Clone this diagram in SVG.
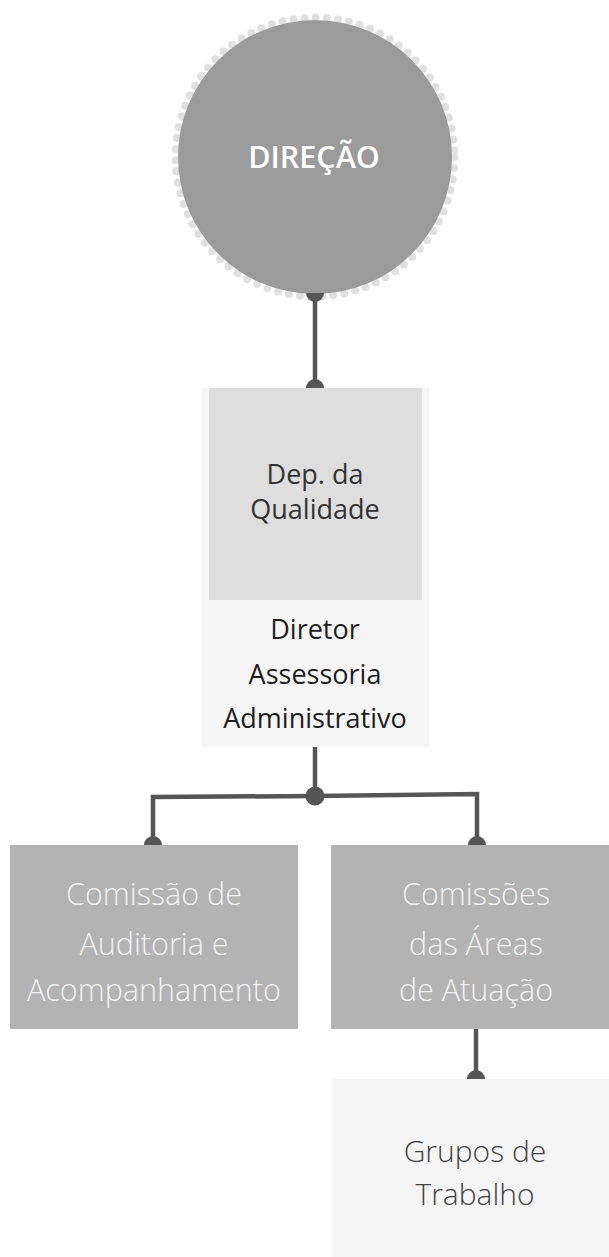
<svg xmlns="http://www.w3.org/2000/svg" width="609" height="1257" viewBox="0 0 609 1257">
<style>
.t{font-family:"Open Sans","Liberation Sans",sans-serif;text-anchor:middle}
.light{font-weight:300;font-size:30.5px;fill:#f2f2f2}
.dark{font-size:27px;fill:#1e1e1e}
.conn{stroke:#555;stroke-width:4.5;fill:none}
.cap{fill:#555}
</style>
<rect width="609" height="1257" fill="#ffffff"/>
<g id="direcao">
<circle cx="315" cy="157" r="139.5" fill="none" stroke="#e0e0e0" stroke-width="8" stroke-linecap="round" stroke-dasharray="0 11.15"/>
<circle cx="315" cy="157" r="137" fill="#9b9b9b"/>
<text class="t" x="314" y="168" font-size="30.5" font-weight="600" fill="#ffffff">DIREÇÃO</text>
</g>
<g id="dep-qualidade">
<rect x="202" y="388" width="227" height="359" fill="#f5f5f5"/>
<rect x="209" y="388" width="213" height="212" fill="#dedede"/>
<text class="t" x="315" y="484" font-size="27" fill="#333">Dep. da</text>
<text class="t" x="315" y="519" font-size="27" fill="#333">Qualidade</text>
<text class="t dark" x="315" y="639">Diretor</text>
<text class="t dark" x="315" y="684">Assessoria</text>
<text class="t dark" x="315" y="728">Administrativo</text>
</g>
<g id="comissao-auditoria">
<rect x="10" y="845" width="288" height="184" fill="#b3b3b3"/>
<text class="t light" x="154" y="905">Comissão de</text>
<text class="t light" x="154" y="955">Auditoria e</text>
<text class="t light" x="154" y="1001">Acompanhamento</text>
</g>
<g id="comissoes-areas">
<rect x="331" y="845" width="290" height="184" fill="#b3b3b3"/>
<text class="t light" x="476" y="905">Comissões</text>
<text class="t light" x="476" y="955">das Áreas</text>
<text class="t light" x="476" y="1001">de Atuação</text>
</g>
<g id="grupos-trabalho">
<rect x="332" y="1079" width="290" height="190" fill="#f5f5f5"/>
<text class="t" x="475" y="1162" font-size="30" font-weight="300" fill="#444">Grupos de</text>
<text class="t" x="475" y="1205" font-size="30" font-weight="300" fill="#444">Trabalho</text>
</g>
<g id="connectors">
<line class="conn" x1="315" y1="293" x2="315" y2="388"/>
<path class="cap" d="M306 293 A9 9 0 0 0 324 293 Z"/>
<path class="cap" d="M306 388 A9 9 0 0 1 324 388 Z"/>
<line class="conn" x1="315" y1="747" x2="315" y2="796"/>
<polyline class="conn" points="153,845 153,797 315,796 477,794 477,845"/>
<circle class="cap" cx="315" cy="796" r="9.5"/>
<path class="cap" d="M144 845 A9 9 0 0 1 162 845 Z"/>
<path class="cap" d="M468 845 A9 9 0 0 1 486 845 Z"/>
<line class="conn" x1="476" y1="1029" x2="476" y2="1079"/>
<path class="cap" d="M467 1079 A9 9 0 0 1 485 1079 Z"/>
</g>
</svg>
